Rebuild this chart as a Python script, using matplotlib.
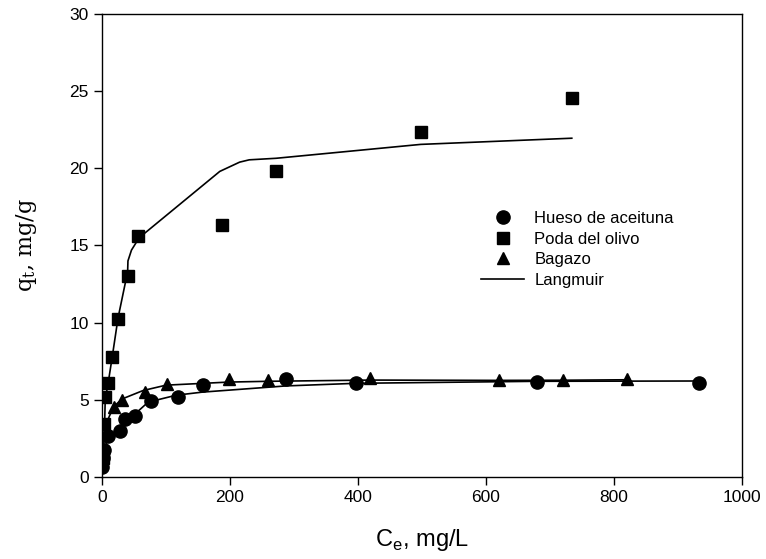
import matplotlib
matplotlib.use("Agg")
import matplotlib.pyplot as plt

# measured points
hueso_x = [0.5, 1.5, 2.5, 10, 28, 36, 52, 77, 119, 157, 287, 397, 679, 932]
hueso_y = [0.65, 1.2, 1.75, 2.65, 3.0, 3.75, 3.95, 4.9, 5.2, 5.95, 6.35, 6.1, 6.18, 6.1]

poda_x = [1, 2, 3, 5, 10, 16, 25, 41, 56, 188, 272, 498, 734]
poda_y = [1.2, 1.65, 3.45, 5.2, 6.1, 7.75, 10.25, 13.0, 15.6, 16.35, 19.85, 22.35, 24.55]

bagazo_x = [19, 31, 67, 102, 198, 259, 419, 620, 721, 820]
bagazo_y = [4.55, 5.0, 5.5, 6.05, 6.35, 6.3, 6.4, 6.3, 6.3, 6.33]

# Langmuir curves as drawn
lang_poda_x = [0, 2, 4, 5, 10, 16, 25, 40, 40.5, 46, 58, 184, 215, 230, 272, 498, 734]
lang_poda_y = [0, 1.6, 3.4, 5.0, 6.2, 7.8, 10.3, 13.3, 14.0, 14.7, 15.5, 19.8, 20.4, 20.55, 20.65, 21.55, 21.95]

lang_hueso_x = [0, 1, 5, 10, 28, 52, 72, 116, 157, 287, 397, 679, 932]
lang_hueso_y = [0, 0.9, 2.0, 2.5, 3.2, 4.1, 4.85, 5.3, 5.5, 5.9, 6.07, 6.2, 6.22]

lang_bag_x = [0, 3, 10, 18, 31, 64, 100, 198, 259, 419, 620, 721, 820]
lang_bag_y = [0, 2.5, 3.8, 4.55, 5.05, 5.6, 5.95, 6.15, 6.2, 6.28, 6.26, 6.27, 6.3]

plt.rcParams['font.family'] = ['Liberation Sans', 'DejaVu Sans']

fig = plt.figure(figsize=(7.66, 5.59), dpi=100)
ax = fig.add_axes([0.1332, 0.1467, 0.8355, 0.8283])

ax.plot(lang_poda_x, lang_poda_y, color='black', lw=1.2, label='Langmuir', zorder=2)
ax.plot(lang_hueso_x, lang_hueso_y, color='black', lw=1.2, zorder=2)
ax.plot(lang_bag_x, lang_bag_y, color='black', lw=1.2, zorder=2)

ax.plot(hueso_x, hueso_y, 'o', color='black', ms=9.5, ls='none', label='Hueso de aceituna', zorder=3)
ax.plot(poda_x, poda_y, 's', color='black', ms=8, ls='none', label='Poda del olivo', zorder=3)
ax.plot(bagazo_x, bagazo_y, '^', color='black', ms=9, ls='none', label='Bagazo', zorder=3)

ax.set_xlim(0, 1000)
ax.set_ylim(0, 30)
ax.set_xticks([0, 200, 400, 600, 800, 1000])
ax.set_yticks([0, 5, 10, 15, 20, 25, 30])
ax.tick_params(direction='out', length=6, width=1, labelsize=12.5, top=False, right=False)
for s in ax.spines.values():
    s.set_linewidth(1)

ax.set_xlabel('C$_\\mathregular{e}$, mg/L', fontsize=17, labelpad=16)
ax.set_ylabel('q$_\\mathregular{t}$, mg/g', fontsize=16, family='DejaVu Serif', labelpad=22)

h, l = ax.get_legend_handles_labels()
order = [1, 2, 3, 0]
ax.legend([h[i] for i in order], [l[i] for i in order], loc='upper left',
          bbox_to_anchor=(0.592, 0.574), frameon=False, fontsize=12,
          handlelength=2.6, handletextpad=0.6, labelspacing=0.33,
          borderpad=0, borderaxespad=0)

fig.savefig('out.png', dpi=100)
